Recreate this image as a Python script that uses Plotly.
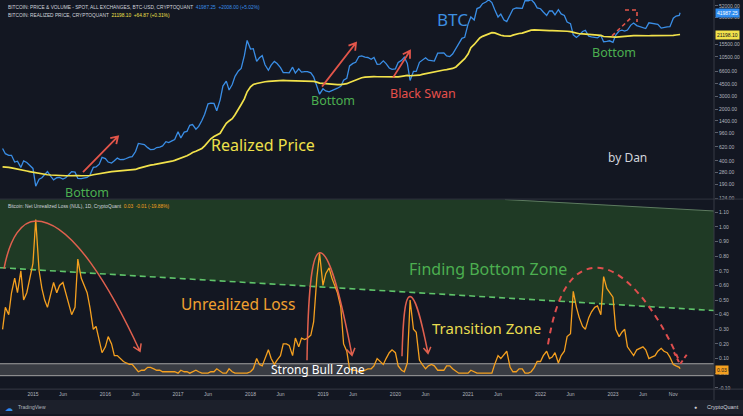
import math
import pandas as pd
import plotly.graph_objects as go

# ---------------- DATA (semi-monthly readings, 1st & 15th) ----------------
btc_2014 = [590, 500, 475, 475, 385, 395, 325, 400, 380, 350]
btc_2015 = [315, 180, 225, 235, 260, 285, 245, 220, 235, 237, 225, 235, 260, 285, 280, 230, 228, 230, 237, 255, 325, 330, 360, 445]
btc_2016 = [430, 385, 372, 400, 435, 415, 417, 430, 450, 455, 536, 690, 675, 665, 605, 570, 572, 607, 614, 640, 730, 710, 750, 780]
btc_2017 = [1000, 820, 985, 1010, 1220, 1250, 1080, 1180, 1420, 1730, 2400, 2450, 2430, 1930, 2720, 4200, 4900, 3700, 4400, 5700, 6750, 7300, 10900, 17600]
btc_2018 = [13400, 13600, 9100, 10200, 10900, 8200, 6900, 8100, 9100, 8500, 7500, 6400, 6400, 6350, 7600, 6300, 7200, 6500, 6600, 6600, 6350, 5600, 4200, 3250]
btc_2019 = [3850, 3600, 3500, 3620, 3820, 3920, 4150, 5050, 5350, 7900, 8550, 8850, 10600, 10850, 10400, 10300, 9750, 10300, 8300, 8350, 9250, 8500, 7400, 7100]
btc_2020 = [7200, 8800, 9400, 10400, 8550, 5000, 6650, 6650, 8850, 9350, 10200, 9450, 9230, 9200, 11800, 11850, 11900, 10800, 10600, 11500, 13800, 16000, 18800, 19400]
btc_2021 = [29400, 36800, 33500, 47900, 49600, 55800, 58800, 63100, 57800, 46700, 36700, 40200, 33500, 31800, 39900, 47000, 48800, 48100, 48200, 61500, 61300, 63500, 57200, 48900]
btc_2022 = [47700, 43100, 38700, 44500, 44400, 39300, 46300, 40500, 38500, 31300, 29800, 21000, 19300, 20800, 23300, 24100, 20100, 19700, 19300, 19100, 20500, 16900, 17100, 17400]
btc_2023 = [16600, 20900, 23700, 24300, 23600, 24400, 28500, 30400, 28100, 27200, 26800, 25600, 30600, 30300, 29700, 29200, 25900, 26600, 27000, 27150, 35400, 37900, 38700, 41987.25]

rp_2014 = [330, 330, 325, 320, 315, 305, 300, 295, 290, 285]
rp_2015 = [280, 270, 265, 262, 260, 258, 256, 254, 252, 251, 250, 250, 250, 252, 253, 252, 250, 250, 250, 252, 258, 262, 268, 275]
rp_2016 = [280, 283, 285, 287, 290, 292, 294, 296, 298, 300, 305, 315, 325, 335, 345, 350, 355, 360, 365, 372, 380, 388, 395, 405]
rp_2017 = [420, 440, 455, 470, 490, 520, 540, 560, 590, 640, 720, 800, 860, 900, 950, 1100, 1300, 1400, 1500, 1700, 2000, 2350, 2800, 3500]
rp_2018 = [4100, 4400, 4550, 4650, 4750, 4800, 4850, 4900, 4950, 5000, 5000, 5000, 4980, 4970, 5000, 4980, 4970, 4950, 4930, 4900, 4880, 4850, 4750, 4600]
rp_2019 = [4550, 4500, 4450, 4400, 4380, 4380, 4400, 4450, 4520, 4700, 4900, 5050, 5300, 5450, 5550, 5600, 5650, 5650, 5620, 5600, 5600, 5600, 5580, 5550]
rp_2020 = [5550, 5600, 5700, 5800, 5850, 5800, 5800, 5800, 5900, 6050, 6200, 6300, 6400, 6450, 6650, 6800, 6950, 7050, 7150, 7300, 7650, 8250, 9150, 9900]
rp_2021 = [11500, 14000, 15500, 17500, 19000, 20000, 21000, 22000, 22500, 22300, 21200, 20700, 20300, 20000, 20100, 20800, 21500, 21900, 22200, 23000, 23800, 24300, 24500, 24300]
rp_2022 = [24300, 24200, 24000, 24000, 24000, 23900, 24000, 24000, 24000, 23500, 23200, 22700, 22000, 21700, 21600, 21500, 21300, 21100, 20900, 20700, 20600, 19900, 19700, 19600]
rp_2023 = [19500, 19500, 19700, 19900, 20000, 20100, 20300, 20500, 20500, 20400, 20400, 20300, 20400, 20500, 20500, 20400, 20300, 20300, 20300, 20350, 20600, 20900, 21100, 21198.10]

nul_2014 = [0.30, 0.45, 0.40, 0.55, 0.65, 0.55, 0.70, 0.50, 0.55, 0.65]
nul_2015 = [0.75, 1.05, 0.70, 0.58, 0.50, 0.45, 0.55, 0.62, 0.55, 0.60, 0.62, 0.55, 0.48, 0.40, 0.45, 0.78, 0.65, 0.60, 0.55, 0.45, 0.30, 0.32, 0.22, 0.14]
nul_2016 = [0.18, 0.25, 0.20, 0.12, 0.12, 0.10, 0.08, 0.07, 0.06, 0.06, 0.03, 0.01, 0.02, 0.02, 0.04, 0.04, 0.03, 0.02, 0.02, 0.01, 0.01, 0.01, 0.01, 0.01]
nul_2017 = [0.00, 0.02, 0.01, 0.01, 0.00, 0.01, 0.02, 0.01, 0.00, 0.00, 0.00, 0.01, 0.01, 0.03, 0.01, 0.00, 0.00, 0.03, 0.01, 0.00, 0.00, 0.00, 0.00, 0.00]
nul_2018 = [0.01, 0.03, 0.10, 0.06, 0.05, 0.10, 0.16, 0.10, 0.06, 0.09, 0.12, 0.20, 0.20, 0.19, 0.12, 0.24, 0.18, 0.24, 0.23, 0.24, 0.26, 0.35, 0.65, 0.82]
nul_2019 = [0.60, 0.68, 0.72, 0.65, 0.60, 0.55, 0.45, 0.20, 0.15, 0.03, 0.02, 0.02, 0.01, 0.01, 0.02, 0.03, 0.03, 0.05, 0.10, 0.08, 0.06, 0.10, 0.14, 0.16]
nul_2020 = [0.14, 0.05, 0.02, 0.01, 0.07, 0.50, 0.30, 0.28, 0.09, 0.06, 0.03, 0.05, 0.06, 0.05, 0.02, 0.02, 0.02, 0.05, 0.05, 0.03, 0.01, 0.00, 0.00, 0.00]
nul_2021 = [0.00, 0.02, 0.01, 0.00, 0.00, 0.00, 0.00, 0.00, 0.00, 0.06, 0.12, 0.10, 0.13, 0.15, 0.04, 0.01, 0.01, 0.03, 0.03, 0.00, 0.00, 0.01, 0.04, 0.08]
nul_2022 = [0.08, 0.12, 0.15, 0.10, 0.11, 0.14, 0.07, 0.12, 0.15, 0.25, 0.27, 0.56, 0.45, 0.38, 0.32, 0.30, 0.38, 0.42, 0.45, 0.46, 0.40, 0.66, 0.58, 0.55]
nul_2023 = [0.52, 0.30, 0.25, 0.28, 0.30, 0.18, 0.15, 0.12, 0.16, 0.17, 0.18, 0.16, 0.10, 0.11, 0.12, 0.15, 0.17, 0.15, 0.14, 0.11, 0.06, 0.05, 0.04, 0.03]

price_ticks = [124, 190, 280, 400, 620, 960, 1400, 2000, 3000, 4500, 6600, 10500, 15500, 36000, 52000]
nul_ticks = [-0.1, 0.0, 0.1, 0.2, 0.3, 0.4, 0.5, 0.6, 0.7, 0.8, 0.9, 1.0, 1.1]
x_tick_dates = ["2015-01-01", "2015-06-01", "2016-01-01", "2016-06-01", "2017-01-01", "2017-06-01",
                "2018-01-01", "2018-06-01", "2019-01-01", "2019-06-01", "2020-01-01", "2020-06-01",
                "2021-01-01", "2021-06-01", "2022-01-01", "2022-06-01", "2023-01-01", "2023-06-01", "2023-11-01"]
x_tick_text = ["2015", "Jun", "2016", "Jun", "2017", "Jun", "2018", "Jun", "2019", "Jun",
               "2020", "Jun", "2021", "Jun", "2022", "Jun", "2023", "Jun", "Nov"]

# sampling grid: 1st and 15th of each month, plus last day
dates = []
for yr in range(2014, 2024):
    for mo in range(1, 13):
        for d in (1, 15):
            t = pd.Timestamp(yr, mo, d)
            if pd.Timestamp(2014, 8, 1) <= t <= pd.Timestamp(2023, 12, 1):
                dates.append(t)
dates.append(pd.Timestamp(2023, 12, 5))

btc = btc_2014 + btc_2015 + btc_2016 + btc_2017 + btc_2018 + btc_2019 + btc_2020 + btc_2021 + btc_2022 + btc_2023
rp = rp_2014 + rp_2015 + rp_2016 + rp_2017 + rp_2018 + rp_2019 + rp_2020 + rp_2021 + rp_2022 + rp_2023
nul = nul_2014 + nul_2015 + nul_2016 + nul_2017 + nul_2018 + nul_2019 + nul_2020 + nul_2021 + nul_2022 + nul_2023

# ---------------- LAYOUT GEOMETRY (pixels) ----------------
W, H = 743, 416
PR = 714            # right edge of plot area
TOP_B = 200         # bottom of price pane
BOT_T, BOT_B = 200, 391
BG = "#131722"
FONT = "Noto Sans"
TFONT = "Liberation Sans"
AXC = "#b2b5be"

def X(px): return px / W
def Y(py): return 1 - py / H

def path(cmds):
    out = []
    for c, pts in cmds:
        out.append(c + " " + " ".join(f"{X(a):.5f},{Y(b):.5f}" for a, b in pts))
    return " ".join(out)

def head(tip, frm, L=8, ang=32):
    dx, dy = tip[0] - frm[0], tip[1] - frm[1]
    n = math.hypot(dx, dy)
    ux, uy = dx / n, dy / n
    arms = []
    for s in (1, -1):
        a = math.radians(ang * s)
        rx = ux * math.cos(a) - uy * math.sin(a)
        ry = ux * math.sin(a) + uy * math.cos(a)
        arms.append((tip[0] - L * rx, tip[1] - L * ry))
    return [("M", [arms[0]]), ("L", [tip]), ("L", [arms[1]])]

shapes = []
def add_shape(p, color, width=1.5, dash="solid", fill=None, layer="above"):
    d = dict(type="path", path=p, xref="paper", yref="paper", layer=layer,
             line=dict(color=color, width=width, dash=dash))
    if fill:
        d["fillcolor"] = fill
    shapes.append(d)

def rect(x0, y0, x1, y1, fill, layer="below", line=None):
    shapes.append(dict(type="rect", xref="paper", yref="paper", x0=X(x0), x1=X(x1), y0=Y(y1), y1=Y(y0),
                       fillcolor=fill, line=dict(width=0) if line is None else line, layer=layer))

def seg(x0, y0, x1, y1, color, width=1, dash="solid", layer="above"):
    shapes.append(dict(type="line", xref="paper", yref="paper", x0=X(x0), y0=Y(y0), x1=X(x1), y1=Y(y1),
                       line=dict(color=color, width=width, dash=dash), layer=layer))

# bottom bar
rect(0, 402, W, H, "#1c202b")
# finding-bottom zone (green parallelogram)
add_shape(path([("M", [(0, BOT_T)]), ("L", [(505, BOT_T)]), ("L", [(PR, 212)]), ("L", [(PR, 312)]),
                ("L", [(0, 269)])]) + " Z", "rgba(0,0,0,0)", 0, fill="#1f3a25", layer="below")
seg(505, BOT_T + 0.5, PR, 212, "#5d7a60", 1, layer="below")
seg(0, 269, PR, 312, "#5fc46a", 1.6, dash="6px,4px", layer="below")
# strong bull zone band
rect(0, 365.5, PR, 377.5, "rgba(120,120,120,0.38)")
seg(0, 365.5, PR, 365.5, "#a0a0a0", 1, layer="below")
seg(0, 377.5, PR, 377.5, "#a0a0a0", 1, layer="below")
# separators
seg(0, 200, W, 200, "#2a2e39", 1.2)
seg(0, BOT_B, W, BOT_B, "#363a45", 1)
seg(PR, 0, PR, 402, "#363a45", 1)

# red arrows in price pane
RED = "#e2554a"
for (a, b) in [((83, 173), (118, 137)), ((322, 87), (356, 43)), ((393, 78), (410, 51))]:
    add_shape(path([("M", [a]), ("L", [b])] + head(b, a, 8)), RED, 1.8)
add_shape(path([("M", [(612, 36)]), ("L", [(631, 18)])]), RED, 1.6, dash="4px,3px")
add_shape(path([("M", [(625, 10)]), ("L", [(637, 10)]), ("L", [(637, 22)])]), RED, 1.6, dash="4px,3px")

# arcs in NUL pane
ARC = "#e0604e"
arc1 = [("M", [(4, 270)]), ("C", [(10, 238), (22, 222), (36, 222)]), ("C", [(72, 222), (112, 292), (140, 353)])]
add_shape(path(arc1 + head((140, 353), (128, 326), 8)), ARC, 1.5)
arc2 = [("M", [(307, 362)]), ("C", [(308, 300), (311, 254), (320, 254)]), ("C", [(330, 254), (341, 300), (352, 357)])]
add_shape(path(arc2 + head((352, 357), (347, 330), 8)), ARC, 1.5)
arc3 = [("M", [(402, 358)]), ("C", [(403, 320), (405, 298), (410, 298)]), ("C", [(416, 298), (422, 325), (428, 355)])]
add_shape(path(arc3 + head((428, 355), (425, 335), 7)), ARC, 1.5)
arc4 = [("M", [(548, 346)]), ("C", [(556, 298), (570, 270), (596, 269)]), ("C", [(626, 268), (660, 318), (678, 360)])]
add_shape(path(arc4), "#e04e4e", 2, dash="6px,5px")
add_shape(path([("M", [(674, 354)]), ("L", [(680, 366)]), ("L", [(687, 356)])]), "#e04e4e", 2, dash="4px,3px")

# ---------------- TRACES ----------------
fig = go.Figure()
fig.add_trace(go.Scatter(x=dates, y=btc, mode="lines", xaxis="x", yaxis="y",
                         line=dict(color="#3a8ee6", width=1.3), hoverinfo="skip"))
fig.add_trace(go.Scatter(x=dates, y=rp, mode="lines", xaxis="x", yaxis="y",
                         line=dict(color="#f2e24b", width=1.7), hoverinfo="skip"))
fig.add_trace(go.Scatter(x=dates, y=nul, mode="lines", xaxis="x2", yaxis="y2",
                         line=dict(color="#f5a01f", width=1.3), hoverinfo="skip"))

# axis ranges derived from the reference's pixel grid
log_top = math.log10(52000) + 6 / 73.6
log_bot = math.log10(52000) - (TOP_B - 6) / 73.6
v_top = (375 - BOT_T) / 147
v_bot = (375 - BOT_B) / 147
xr = ["2014-07-19", "2024-05-24"]

annotations = []
def ann(text, x, y, size, color, family=FONT, xanchor="center", **kw):
    d = dict(text=text, x=X(x), y=Y(y), xref="paper", yref="paper", showarrow=False,
             font=dict(size=size, color=color, family=family), xanchor=xanchor, yanchor="middle")
    d.update(kw)
    annotations.append(d)

GREEN = "#4caf50"
ann("BTC", 452, 20, 17, "#3d8ee0")
ann("Realized Price", 263, 146, 16, "#efe04a")
ann("Bottom", 87, 193, 12.5, GREEN)
ann("Bottom", 333, 101, 12.5, GREEN)
ann("Bottom", 614, 53, 12.5, GREEN)
ann("Black Swan", 423, 94, 12.5, "#e5504b")
ann("by Dan", 627, 158, 12, "#d1d4dc")
ann("Finding Bottom Zone", 488, 270, 16, GREEN)
ann("Unrealized Loss", 238, 305, 15.5, "#f0a030")
ann("Transition Zone", 486, 330, 15, "#e8dc50")
ann("Strong Bull Zone", 318, 371, 12, "#ffffff")

# header legends
ann("BITCOIN: PRICE &amp; VOLUME - SPOT, ALL EXCHANGES, BTC-USD, CRYPTOQUANT  "
    "<span style='color:#3a8ee6'>41987.25  +2008.00 (+5.02%)</span>", 6, 7.5, 4.8, "#d1d4dc", TFONT, "left")
ann("BITCOIN: REALIZED PRICE, CRYPTOQUANT  <span style='color:#f2e24b'>21198.10  +64.87 (+0.31%)</span>",
    6, 15.5, 4.8, "#d1d4dc", TFONT, "left")
ann("Bitcoin: Net Unrealized Loss (NUL), 1D, CryptoQuant  <span style='color:#f5a01f'>0.03  -0.01 (-19.88%)</span>",
    6, 207, 4.8, "#d1d4dc", TFONT, "left")

# price labels on the axis
ann("41987.25", 715, 13, 5, "#ffffff", TFONT, "left", bgcolor="#2f8cf0", borderpad=1)
ann("21198.10", 715, 35, 5, "#131722", TFONT, "left", bgcolor="#f2e24b", borderpad=1)
ann("0.03", 715, 372, 5, "#131722", TFONT, "left", bgcolor="#f5a01f", borderpad=1)

# footer
ann("TradingView", 16, 409, 5, "#b2b5be", TFONT, "left")
ann("\u2601", 9, 409, 8, "#2f8cf0")
ann("CryptoQuant", 741, 409, 5.5, "#d1d4dc", TFONT, "right")
ann("\u25cf", 695, 409, 5, "#d1d4dc")

fig.update_layout(
    width=W, height=H, margin=dict(l=0, r=0, t=0, b=0),
    paper_bgcolor=BG, plot_bgcolor="rgba(0,0,0,0)", showlegend=False,
    shapes=shapes, annotations=annotations,
    xaxis=dict(domain=[0, PR / W], anchor="y", range=xr, showticklabels=False, showgrid=False,
               zeroline=False, showline=False, ticks=""),
    yaxis=dict(domain=[Y(TOP_B), 1], anchor="x", type="log", range=[log_bot, log_top], side="right",
               tickvals=price_ticks, ticktext=[f"{v:.2f}" for v in price_ticks],
               tickfont=dict(size=5, color=AXC, family=TFONT), ticks="outside", ticklen=3,
               tickcolor="#5d606b", showgrid=False, zeroline=False, showline=False),
    xaxis2=dict(domain=[0, PR / W], anchor="y2", range=xr, tickvals=x_tick_dates, ticktext=x_tick_text,
                tickfont=dict(size=5, color=AXC, family=TFONT), showgrid=False, zeroline=False,
                showline=False, ticks="", ticklabelstandoff=1),
    yaxis2=dict(domain=[Y(BOT_B), Y(BOT_T)], anchor="x2", range=[v_bot, v_top], side="right",
                tickvals=nul_ticks, ticktext=[f"{v:.2f}" for v in nul_ticks],
                tickfont=dict(size=5, color=AXC, family=TFONT), ticks="outside", ticklen=3,
                tickcolor="#5d606b", showgrid=False, zeroline=False, showline=False),
)

fig.write_html("out.html")
